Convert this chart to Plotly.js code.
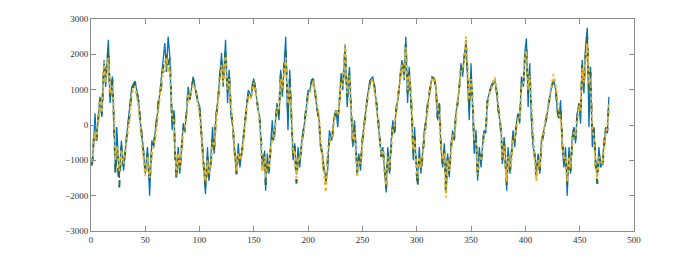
<!DOCTYPE html>
<html>
<head>
<meta charset="utf-8">
<script src="https://cdn.plot.ly/plotly-3.0.1.min.js"></script>
<style>
html, body { margin: 0; padding: 0; background: #fff; }
#plot { width: 700px; height: 259px; }
</style>
</head>
<body>
<div id="plot"></div>
<script>
// sample positions
var t = [0.6,1.5,2.5,3.7,5,6.5,8.3,10,12,13.5,16,17.5,19.7,21.3,22.5,23.7,26,28,30,33,35.6,37.5,40.6,43.8,45.3,47.7,50,52,54,56,57.8,59.5,62,64,66.7,68,69.5,71,72.6,73.5,74.7,76.5,77.2,78.7,80.3,81.8,83.4,84.9,86.4,88,89.5,91,94.1,95.6,98.1,100.2,101.7,103.3,105.4,107.3,108.5,110.3,111.9,113.4,115,117.1,118.6,120.2,121.7,123.9,125.7,127.2,128.8,130.9,132.5,134,135.6,137.1,139.3,141.1,142.6,144.8,147.6,149.8,151.6,153.8,155.3,156.8,157.8,159.9,160.8,162.4,163.9,165.1,166.9,168.2,170,171.3,173.1,174.7,176.2,177.8,179.3,180.5,181.4,183,184.6,186.1,187.6,189.2,190.7,192.2,193.8,195.9,197.8,199.9,201.4,203,204.5,206.1,208.2,210.1,211.3,213.2,214.4,216.3,217.9,219.5,221.7,223.5,225.7,227.2,228.8,230.3,231.9,234,235.9,238,239.6,241.1,242.6,244.2,245.1,246.6,248.2,249.7,251.2,253.4,254.9,257.1,259.5,261,262.6,264.1,265.7,267.2,268.7,270.3,271.8,273.3,274.9,276.4,277.9,279.5,281,282.6,285,286.3,288.4,289.9,291.5,293,294.6,295.5,296.7,298,299.2,300.7,302.3,303.8,305.3,306.9,308.4,310,311.5,314,316.1,317.6,319.2,320.7,322.2,323.8,325.3,326.8,328.4,329.9,331.4,333,334.5,336,337.6,339.1,340.7,342.2,343.7,345.3,346.8,348.3,349.9,351.4,352.9,354.5,356,357.6,359.1,360.4,361.9,363.5,365,366.6,368.1,369.7,371.8,373.6,374.9,376.4,377.9,378.8,380.4,381.9,382.8,384,385.9,387.1,388.6,390.2,392,393.3,394.8,396.3,398.2,399.7,400.9,402.5,404,405.5,407.1,408.6,410.1,411.7,413.2,414.7,416.3,417.8,419.3,420.9,422.4,424,425.8,428,429.5,431,432.4,433.9,435.5,437,438.5,440.1,441.6,443.1,444.7,446.2,447.7,449.3,450.8,452.3,453.9,455.4,457,458.5,460,461.6,463.1,464.6,466.2,467.7,469.2,470.8,472.3,473.9,475.4,476.9];

// series 1 (blue, solid)
var s1 = [-1100,-900,-450,330,-435,200,800,230,1840,1080,2410,620,1370,-150,-1300,-60,-1500,-440,-1290,-240,420,1080,1240,700,135,-520,-1380,-625,-2000,-440,-625,-60,510,1080,1940,2320,1500,2500,1940,620,-150,420,-810,-1300,-625,-1380,-625,50,-150,330,1080,700,1370,1080,700,510,-240,-910,-1950,-625,-1580,-1000,-60,-810,230,800,1370,2040,1080,2410,620,1560,330,-150,-910,-1380,-520,-1200,-625,-60,330,990,800,1320,990,420,230,-625,-1290,-720,-1860,-810,-1380,-720,135,-440,135,620,135,1560,800,1750,2500,700,-150,1560,135,-1000,-520,-1400,-625,-1200,-520,-60,330,990,940,1270,1320,990,420,135,-625,-810,-1200,-1500,-1290,-150,-440,135,420,-60,700,1470,990,2270,510,1650,330,-625,135,-1000,-1300,-810,-1290,-440,-60,510,890,1270,1370,1080,700,135,-440,-810,-625,-1290,-1910,-625,-1380,-440,135,-240,510,700,1560,1840,1270,2500,620,1650,620,135,-1000,-60,-1000,-1600,-625,-1380,-810,-150,135,620,890,1370,1320,1080,135,620,-625,-1200,-520,-1800,-810,-1480,-625,-150,-440,330,620,990,1750,1370,1940,2410,1270,135,1750,620,-810,-150,-1580,-625,-1200,-625,-150,-240,700,890,1080,1180,1270,890,420,135,-340,-1100,-340,-1000,-1860,-625,-1380,-810,-150,-625,135,330,40,1370,1080,2130,2450,510,1750,135,-625,-810,-1400,-810,-1380,-440,-240,-60,135,510,800,1080,1270,990,330,200,700,-625,-1200,-625,-2000,-625,-1380,-340,-60,-520,330,620,40,1840,890,2220,2750,-60,1650,-625,-60,-1000,-1400,-625,-1200,-1100,-520,-60,-240,800];

// series 2 (green, dashed)
var s2 = [-1150,-1000,-400,-300,-450,150,750,300,1700,1300,2200,800,1300,0,-1400,-700,-1770,-600,-1200,-300,300,950,1220,650,100,-600,-1300,-800,-1600,-700,-500,-200,650,900,1700,1600,2000,1700,1900,900,100,450,-700,-1580,-900,-1300,-700,-100,-200,400,1000,750,1300,1100,750,400,-300,-1000,-1770,-900,-1500,-1100,-400,-700,200,700,1400,1800,1300,2100,900,1400,500,-200,-800,-1400,-700,-1100,-700,-100,300,900,850,1350,1000,500,150,-500,-1200,-800,-1700,-1000,-1300,-800,-300,-500,100,550,300,1500,900,1700,2100,1000,400,1300,200,-900,-600,-1660,-800,-1100,-600,-100,300,900,950,1200,1300,1000,500,100,-500,-900,-1300,-1600,-900,-400,-500,100,450,200,650,1300,1100,2100,800,1500,400,-500,0,-1100,-1350,-900,-1200,-500,-100,450,850,1250,1350,1100,750,300,-300,-900,-600,-1200,-1800,-800,-1300,-600,0,-200,400,750,1500,1800,1400,2300,900,1500,800,300,-800,-300,-1000,-1770,-800,-1300,-900,-300,100,600,900,1350,1300,1050,200,600,-500,-1100,-700,-1900,-900,-1400,-700,-200,-400,300,600,1000,1600,1500,1900,2300,1400,500,1400,700,-500,-300,-1500,-800,-1100,-700,-200,-200,650,900,1050,1150,1250,950,500,200,-300,-1000,-500,-1100,-1700,-800,-1300,-900,-300,-500,100,300,100,1200,1150,2000,2200,900,1500,400,-500,-900,-1450,-900,-1300,-600,-300,-100,150,500,800,1050,1250,1000,450,150,400,-500,-1100,-800,-1700,-800,-1300,-500,-100,-400,250,600,300,1700,1100,2000,2500,1000,1500,-300,-100,-1100,-1670,-800,-1100,-1200,-600,-100,-200,700];

// series 3 (yellow, dotted)
var s3 = [-1050,-900,-500,-200,-400,100,700,350,1800,1200,1900,900,1100,300,-1000,-600,-1300,-700,-1100,-400,200,900,1100,500,0,-700,-1450,-900,-1500,-800,-600,-300,450,1000,1600,1500,1900,1500,1600,800,200,100,-600,-1400,-800,-1200,-800,-200,-100,300,900,800,1150,1050,600,300,-400,-1100,-1600,-1000,-1400,-1200,-500,-600,0,650,1200,1700,1200,1950,1000,1300,600,-100,-900,-1300,-800,-1000,-750,-200,200,850,750,1200,950,400,100,-600,-1300,-900,-1500,-1100,-1200,-700,-400,-300,50,500,400,1300,1000,1500,1900,1100,600,1100,300,-800,-700,-1500,-900,-1000,-700,-200,250,800,900,1100,1250,1000,600,200,-400,-1000,-1400,-1900,-800,-500,-300,50,400,300,600,1200,1100,2300,900,1400,600,-400,-200,-1200,-1480,-1000,-1100,-600,-200,400,800,1200,1300,1000,650,200,-400,-800,-700,-1300,-1700,-900,-1200,-700,-100,0,350,800,1400,1700,1300,2200,1000,1400,900,400,-700,-400,-1100,-1500,-900,-1200,-800,-400,50,550,850,1300,1350,1000,500,300,-600,-1000,-800,-2050,-1000,-1300,-800,-300,-300,250,650,1100,1500,1600,1800,2500,1500,700,1300,800,-400,-500,-1400,-900,-1000,-600,-300,-100,600,850,1000,1200,1350,1000,600,300,-200,-900,-600,-1200,-1600,-900,-1200,-1000,-400,-400,0,250,200,1100,1200,1900,2100,1000,1400,600,-400,-1000,-1580,-1000,-1200,-700,-200,0,200,450,750,1100,1430,1100,600,300,200,-400,-1000,-900,-1600,-900,-1200,-600,-200,-300,200,550,400,1600,1200,1900,2300,1200,1300,-200,-300,-1200,-1500,-900,-1000,-1100,-700,-200,-100,600];

var names = ['series 1', 'series 2', 'series 3'];
var colors = ['#0072BD', '#2E6B4A', '#EDB120'];

var trace1 = { x: t, y: s1, mode: 'lines', name: names[0], line: { color: colors[0], width: 1.3 } };
var trace2 = { x: t, y: s2, mode: 'lines', name: names[1], line: { color: colors[1], width: 2, dash: 'dash' } };
var trace3 = { x: t, y: s3, mode: 'lines', name: names[2], line: { color: colors[2], width: 2, dash: 'dot' } };

var axisStyle = {
  showgrid: false,
  zeroline: false,
  showline: true,
  mirror: 'allticks',
  linecolor: '#8c8c8c',
  linewidth: 1,
  ticks: 'inside',
  ticklen: 5,
  tickcolor: '#8c8c8c',
  tickfont: { family: 'Liberation Serif', size: 9, color: '#333333' }
};

var layout = {
  width: 700,
  height: 259,
  margin: { l: 91, r: 66, t: 19, b: 28 },
  paper_bgcolor: '#fff',
  plot_bgcolor: '#fff',
  showlegend: false,
  xaxis: Object.assign({}, axisStyle, { range: [0, 500], tickvals: [0,50,100,150,200,250,300,350,400,450,500] }),
  yaxis: Object.assign({}, axisStyle, { range: [-3000, 3000], tickvals: [-3000,-2000,-1000,0,1000,2000,3000] })
};

Plotly.newPlot('plot', [trace1, trace2, trace3], layout, { staticPlot: true, displayModeBar: false });
</script>
</body>
</html>
